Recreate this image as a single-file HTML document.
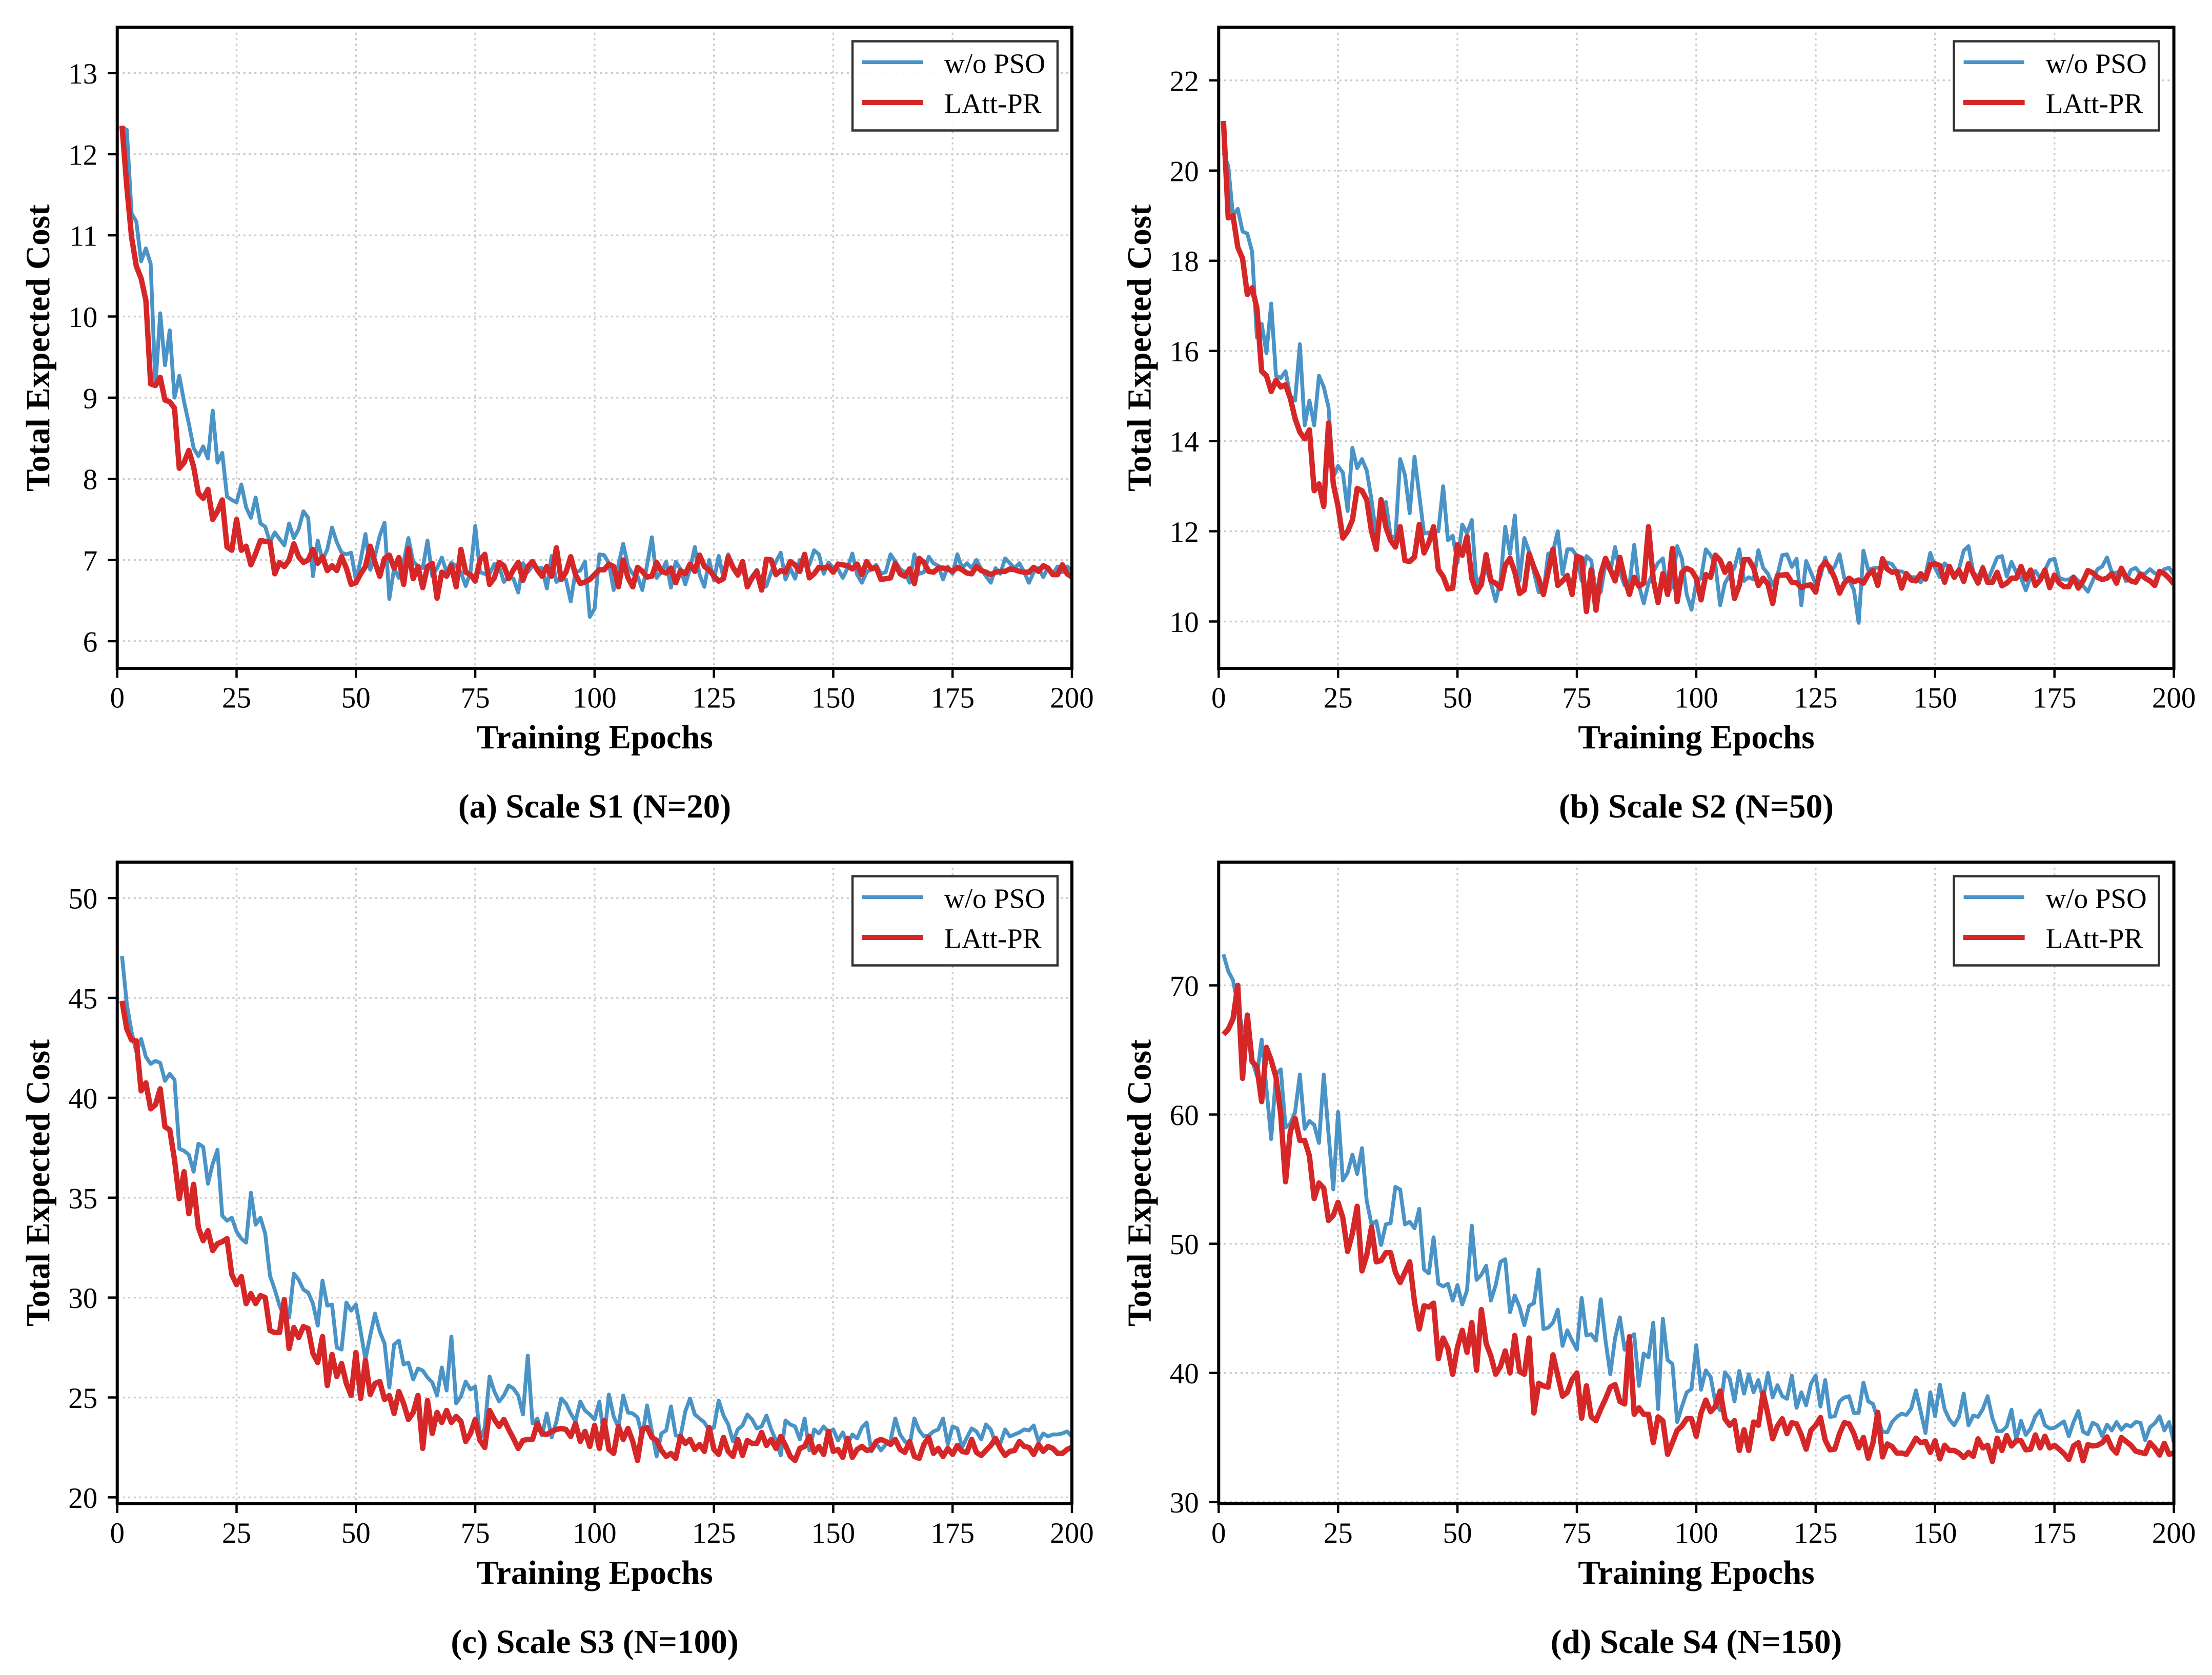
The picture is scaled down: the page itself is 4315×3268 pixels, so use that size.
<!DOCTYPE html>
<html lang="en">
<head>
<meta charset="utf-8">
<title>Total Expected Cost vs Training Epochs</title>
<style>
html,body{margin:0;padding:0;background:#fff;}
svg{display:block;}
text{font-family:"Liberation Serif","DejaVu Serif",serif;fill:#000;}
.axis-title{font-size:65.3px;font-weight:bold;}
.caption{font-size:65.3px;font-weight:bold;}
.tick-label{font-size:57px;}
.legend-text{font-size:55px;}
</style>
</head>
<body>
<svg id="figure" xmlns="http://www.w3.org/2000/svg" width="4315" height="3268" viewBox="0 0 4315 3268">
<rect x="0" y="0" width="4315" height="3268" fill="#fff"/>

<g id="panel-a">
<g class="plot"></g>
<text class="axis-title" x="1160" y="1460" text-anchor="middle">Training Epochs</text>
<text class="axis-title" transform="translate(96,679) rotate(-90)" text-anchor="middle">Total Expected Cost</text>
<text class="caption" x="1160" y="1595" text-anchor="middle">(a) Scale S1 (N=20)</text>
<g>
<rect x="1663" y="80.5" width="400" height="174" fill="#fff" fill-opacity="0.9" stroke="#333" stroke-width="4.5"/>
<line x1="1682" x2="1800" y1="121.3" y2="121.3" stroke="#4a93c6" stroke-width="7.3"/>
<text class="legend-text" x="1842" y="142.7">w/o PSO</text>
<line x1="1681" x2="1801" y1="200" y2="200" stroke="#d62728" stroke-width="10"/>
<text class="legend-text" x="1842" y="220.7">LAtt-PR</text>
</g>
</g>

<g id="panel-b">
<g class="plot"></g>
<text class="axis-title" x="3309" y="1460" text-anchor="middle">Training Epochs</text>
<text class="axis-title" transform="translate(2244.6,679) rotate(-90)" text-anchor="middle">Total Expected Cost</text>
<text class="caption" x="3309" y="1595" text-anchor="middle">(b) Scale S2 (N=50)</text>
<g>
<rect x="3811.6" y="80.5" width="400" height="174" fill="#fff" fill-opacity="0.9" stroke="#333" stroke-width="4.5"/>
<line x1="3830.6" x2="3948.6" y1="121.3" y2="121.3" stroke="#4a93c6" stroke-width="7.3"/>
<text class="legend-text" x="3990.6" y="142.7">w/o PSO</text>
<line x1="3829.6" x2="3949.6" y1="200" y2="200" stroke="#d62728" stroke-width="10"/>
<text class="legend-text" x="3990.6" y="220.7">LAtt-PR</text>
</g>
</g>

<g id="panel-c">
<g class="plot"></g>
<text class="axis-title" x="1160" y="3090" text-anchor="middle">Training Epochs</text>
<text class="axis-title" transform="translate(96,2308) rotate(-90)" text-anchor="middle">Total Expected Cost</text>
<text class="caption" x="1160" y="3225" text-anchor="middle">(c) Scale S3 (N=100)</text>
<g>
<rect x="1663" y="1709.5" width="400" height="174" fill="#fff" fill-opacity="0.9" stroke="#333" stroke-width="4.5"/>
<line x1="1682" x2="1800" y1="1750.3" y2="1750.3" stroke="#4a93c6" stroke-width="7.3"/>
<text class="legend-text" x="1842" y="1771.7">w/o PSO</text>
<line x1="1681" x2="1801" y1="1829" y2="1829" stroke="#d62728" stroke-width="10"/>
<text class="legend-text" x="1842" y="1849.7">LAtt-PR</text>
</g>
</g>

<g id="panel-d">
<g class="plot"></g>
<text class="axis-title" x="3309" y="3090" text-anchor="middle">Training Epochs</text>
<text class="axis-title" transform="translate(2244.6,2308) rotate(-90)" text-anchor="middle">Total Expected Cost</text>
<text class="caption" x="3309" y="3225" text-anchor="middle">(d) Scale S4 (N=150)</text>
<g>
<rect x="3811.6" y="1709.5" width="400" height="174" fill="#fff" fill-opacity="0.9" stroke="#333" stroke-width="4.5"/>
<line x1="3830.6" x2="3948.6" y1="1750.3" y2="1750.3" stroke="#4a93c6" stroke-width="7.3"/>
<text class="legend-text" x="3990.6" y="1771.7">w/o PSO</text>
<line x1="3829.6" x2="3949.6" y1="1829" y2="1829" stroke="#d62728" stroke-width="10"/>
<text class="legend-text" x="3990.6" y="1849.7">LAtt-PR</text>
</g>
</g>
</svg>

<script>
const xTicks = [0,25,50,75,100,125,150,175,200];
const yTicksS1 = [6,7,8,9,10,11,12,13];
const yTicksS2 = [10,12,14,16,18,20,22];
const yTicksS3 = [20,25,30,35,40,45,50];
const yTicksS4 = [30,40,50,60,70];

const woPsoS1 = [
12.33,12.3,11.27,11.17,10.68,10.84,10.65,9.14,10.04,9.4,
9.83,9.0,9.27,8.95,8.68,8.38,8.28,8.4,8.25,8.84,
8.2,8.32,7.78,7.74,7.71,7.93,7.65,7.52,7.77,7.45,
7.41,7.22,7.34,7.26,7.18,7.45,7.27,7.38,7.6,7.52,
6.8,7.24,7.0,7.13,7.4,7.22,7.09,7.07,7.09,6.75,
7.0,7.32,6.88,7.05,7.3,7.46,6.52,6.9,6.78,6.98,
7.27,6.98,6.93,6.9,7.24,6.8,6.9,7.03,6.85,6.97,
6.92,6.85,6.68,6.85,7.42,6.85,6.83,6.83,6.95,6.92,
6.73,6.8,6.77,6.6,6.96,6.85,6.93,6.9,6.9,6.65,
7.05,6.73,6.78,6.76,6.49,6.85,6.87,6.98,6.3,6.4,
7.07,7.06,6.96,6.63,6.94,7.2,6.92,6.83,6.8,6.63,
6.94,7.28,6.78,6.85,6.98,6.66,6.98,6.89,6.7,6.89,
7.16,6.82,6.67,7.0,6.75,7.05,6.78,7.07,6.89,6.8,
6.89,6.71,6.8,6.88,6.65,6.68,6.85,6.98,7.09,6.76,
6.9,6.77,7.0,7.01,6.94,7.12,7.07,6.83,6.97,6.9,
6.89,6.78,6.9,7.08,6.82,6.72,6.85,6.89,6.94,6.83,
6.85,7.07,6.98,6.89,6.85,6.72,7.07,6.83,6.85,7.04,
6.96,6.93,6.76,6.92,6.83,7.07,6.9,6.96,6.9,7.0,
6.89,6.8,6.72,6.9,6.83,7.02,6.96,6.9,6.96,6.85,
6.72,6.85,6.9,6.79,6.91,6.83,6.92,6.85,6.92,6.86];

const lattPrS1 = [
12.35,11.6,10.98,10.62,10.47,10.2,9.17,9.15,9.25,8.97,
8.95,8.87,8.13,8.2,8.35,8.15,7.82,7.76,7.87,7.5,
7.6,7.74,7.16,7.12,7.5,7.12,7.17,6.94,7.08,7.24,
7.23,7.22,6.83,6.97,6.92,7.0,7.2,7.04,6.97,7.0,
7.13,6.96,7.04,6.87,6.93,6.87,7.04,6.9,6.7,6.72,
6.83,6.92,7.17,6.97,6.8,7.02,7.06,6.9,7.03,6.7,
7.14,6.77,6.92,6.66,6.92,6.96,6.53,6.85,6.8,6.93,
6.67,7.13,6.85,6.82,6.74,7.0,7.07,6.7,6.78,6.97,
6.93,6.77,6.88,6.97,6.75,6.92,6.98,6.88,6.8,6.92,
6.8,7.15,6.76,6.85,7.04,6.82,6.71,6.73,6.76,6.82,
6.88,6.88,6.95,6.92,6.67,7.0,6.78,6.67,6.91,6.86,
6.79,6.8,6.97,6.86,6.84,6.9,6.72,6.87,6.83,6.95,
6.86,7.06,6.92,6.88,6.8,6.74,6.77,7.04,6.91,6.82,
6.98,6.67,6.78,6.86,6.63,7.01,7.0,6.82,6.87,6.85,
6.98,6.94,6.86,7.07,6.78,6.83,6.91,6.9,6.92,6.85,
6.95,6.94,6.93,6.89,6.95,6.82,6.98,6.89,6.91,6.76,
6.77,6.78,6.96,6.83,6.8,6.89,6.71,7.02,6.97,6.86,
6.85,6.9,6.9,6.89,6.86,6.91,6.88,6.84,6.83,6.92,
6.87,6.85,6.82,6.85,6.86,6.86,6.89,6.88,6.86,6.85,
6.85,6.91,6.86,6.93,6.9,6.82,6.82,6.94,6.83,6.79];

const woPsoS2 = [
20.4,20.1,19.0,19.15,18.65,18.6,18.2,16.3,16.6,15.95,
17.05,15.45,15.4,15.55,15.0,14.9,16.15,14.35,14.9,14.35,
15.45,15.2,14.75,13.2,13.45,13.3,12.45,13.85,13.4,13.6,
13.35,12.7,11.9,12.5,12.65,11.9,11.85,13.6,13.25,12.4,
13.65,12.8,11.95,11.97,12.0,12.0,13.0,11.8,11.9,11.3,
12.15,11.95,12.25,10.8,11.0,11.2,10.85,10.45,10.9,12.1,
11.5,12.35,10.9,11.85,11.55,11.1,10.65,10.65,11.5,11.55,
12.0,11.05,11.6,11.6,11.45,10.9,11.45,11.35,10.65,10.65,
11.3,11.1,11.65,11.1,10.8,10.8,11.7,10.8,10.4,10.85,
11.1,11.3,11.4,10.6,10.8,11.67,11.39,10.6,10.26,10.87,
10.96,11.6,11.47,11.26,10.36,10.85,11.03,11.19,11.6,10.9,
10.98,10.93,11.58,11.19,11.06,10.8,11.03,11.47,11.49,11.21,
11.39,10.36,11.34,11.09,10.83,11.0,11.42,11.09,11.22,11.49,
10.96,10.92,10.7,9.97,11.57,11.14,11.18,11.19,11.16,11.31,
11.27,11.11,11.11,11.06,10.98,10.98,10.87,11.03,11.52,11.19,
10.98,11.29,11.19,10.98,11.16,11.57,11.67,11.09,10.98,11.22,
10.9,11.16,11.42,11.45,11.0,11.32,11.09,10.96,10.69,11.0,
11.12,10.96,11.14,11.36,11.39,10.96,10.93,10.93,11.0,10.9,
10.79,10.66,10.9,11.16,11.22,11.42,11.09,11.07,11.16,10.89,
11.14,11.19,11.06,11.06,11.16,11.07,11.06,11.16,11.19,11.03];

const lattPrS2 = [
21.1,18.95,19.0,18.3,18.05,17.25,17.4,16.95,15.55,15.45,
15.1,15.35,15.2,15.25,14.95,14.5,14.2,14.05,14.25,12.9,
13.05,12.55,14.4,13.05,12.55,11.85,12.0,12.25,12.95,12.9,
12.7,12.0,11.6,12.7,12.1,11.8,11.65,12.1,11.35,11.33,
11.43,12.15,11.52,11.75,12.1,11.15,11.0,10.72,10.74,11.7,
11.47,11.88,10.95,10.65,10.82,11.48,10.9,10.85,10.73,11.25,
11.4,11.1,10.62,10.7,11.5,11.2,10.95,10.6,11.1,11.6,
10.8,10.9,11.02,10.6,11.45,11.4,10.22,11.15,10.25,11.05,
11.4,11.15,10.9,11.42,10.95,10.6,10.98,10.78,10.85,12.1,
10.93,10.42,11.06,10.6,11.62,10.44,11.09,11.18,11.13,10.96,
10.48,11.04,10.98,11.47,11.36,11.09,11.28,10.51,10.8,11.37,
11.37,11.19,10.8,10.96,10.83,10.4,11.02,11.03,11.04,10.87,
10.86,10.75,10.8,10.81,10.65,11.18,11.32,11.19,10.96,10.63,
10.85,10.96,10.88,10.92,10.85,11.04,11.13,10.8,11.39,11.16,
11.09,11.11,10.74,11.06,10.92,10.9,11.06,10.94,11.26,11.28,
11.24,10.87,11.22,10.98,11.14,10.89,11.28,11.06,10.85,11.18,
10.87,10.87,11.09,10.79,10.85,10.96,10.96,11.22,10.94,11.14,
10.8,10.92,11.14,10.75,11.03,10.85,10.77,10.77,10.98,10.74,
10.9,11.13,11.08,10.98,10.93,10.96,11.06,10.85,11.18,10.98,
10.9,10.87,11.05,10.96,10.9,10.8,11.11,11.06,10.96,10.83];

const woPsoS3 = [
47.1,44.7,43.3,42.3,42.95,42.05,41.7,41.85,41.75,40.85,
41.2,40.9,37.45,37.35,37.15,36.3,37.7,37.55,35.7,36.7,
37.4,34.1,33.85,34.0,33.3,32.95,32.75,35.25,33.65,34.0,
33.2,31.1,30.4,29.6,29.0,29.0,31.2,30.9,30.4,30.25,
29.7,28.6,30.85,29.6,29.65,27.5,27.4,29.75,29.35,29.65,
28.3,26.9,28.1,29.2,28.3,27.7,25.5,27.65,27.85,26.65,
26.75,25.9,26.45,26.35,26.0,25.75,25.1,26.5,25.35,28.05,
24.7,25.05,25.8,25.4,25.55,22.9,23.5,26.05,25.3,24.8,
25.1,25.6,25.45,25.1,24.15,27.1,23.7,23.95,23.1,24.2,
23.0,23.8,24.95,24.7,24.2,23.8,24.8,24.35,24.15,23.9,
24.8,23.0,25.15,24.05,23.5,25.1,24.25,24.2,24.0,23.05,
24.6,23.3,22.05,23.2,23.35,24.55,23.1,23.05,24.3,24.95,
24.15,23.95,23.75,23.35,23.5,24.85,24.1,23.65,22.8,23.4,
23.6,24.15,23.9,23.45,23.55,24.1,23.4,22.85,22.1,23.85,
23.65,23.55,22.9,23.95,22.35,23.4,23.2,23.55,23.25,23.4,
22.85,23.25,22.65,23.15,22.95,23.5,23.75,22.3,22.7,22.35,
22.65,22.85,23.95,23.15,22.8,22.6,23.95,23.35,23.05,23.1,
23.3,23.4,23.95,22.65,23.55,23.45,22.5,23.0,23.45,23.3,
22.9,23.65,23.4,22.7,22.7,23.4,23.05,23.15,23.25,23.4,
23.35,23.6,22.8,23.2,23.05,23.15,23.15,23.2,23.3,23.05];

const lattPrS3 = [
44.85,43.45,42.9,42.85,40.35,40.75,39.45,39.65,40.45,38.55,
38.4,36.9,34.95,36.3,34.2,35.67,33.5,32.85,33.35,32.35,
32.7,32.8,32.95,31.15,30.65,31.05,29.7,30.2,29.7,30.1,
30.0,28.35,28.25,28.25,29.9,27.45,28.5,28.0,28.55,28.45,
27.2,26.75,28.05,25.6,27.15,26.05,26.7,25.7,25.1,27.25,
24.95,26.85,25.15,25.7,25.8,24.9,25.1,24.2,25.3,24.7,
23.9,24.25,25.1,22.45,24.85,23.2,24.25,23.75,24.35,23.75,
24.05,23.8,22.8,23.2,23.9,22.85,22.5,24.35,23.9,23.55,
23.9,23.4,22.95,22.45,22.85,22.9,22.9,23.7,23.2,23.15,
23.3,23.4,23.45,23.4,23.05,23.7,22.8,23.3,22.55,23.6,
22.45,23.85,22.4,22.2,23.55,22.9,23.45,22.8,21.85,23.4,
23.5,23.0,22.85,22.35,22.05,22.2,21.95,23.05,22.7,22.9,
22.4,22.65,22.3,23.5,22.4,22.15,23.0,22.3,22.05,22.9,
22.1,22.85,22.7,22.7,23.25,22.6,22.9,22.45,23.05,22.6,
22.05,21.85,22.45,22.55,23.05,22.25,22.55,22.15,23.3,22.3,
22.4,22.0,22.95,22.0,22.4,22.55,22.35,22.4,22.8,22.9,
22.8,22.65,22.9,22.4,22.25,22.8,22.05,21.95,22.65,23.0,
22.2,22.45,22.05,22.45,22.15,22.6,22.3,22.25,22.9,22.25,
22.1,22.35,22.6,22.95,22.45,22.1,22.3,22.35,22.8,22.55,
22.5,22.15,22.65,22.3,22.55,22.45,22.2,22.2,22.4,22.5];

const woPsoS4 = [
72.4,71.1,70.4,68.5,66.5,67.0,64.2,63.0,65.8,62.0,
58.1,63.1,63.5,59.0,59.3,60.2,63.1,58.9,59.5,59.2,
57.8,63.1,58.5,54.2,60.2,54.9,55.5,56.9,55.4,57.4,
53.3,51.5,51.75,49.9,51.5,51.6,54.4,54.2,51.5,51.7,
51.2,52.7,48.0,47.7,50.5,46.9,46.7,46.9,45.6,46.8,
45.3,46.4,51.4,47.2,47.6,48.3,45.6,46.8,48.6,48.8,
44.7,46.0,45.1,43.7,45.2,45.4,48.0,43.4,43.5,43.9,
44.9,42.1,43.3,42.5,41.8,45.8,42.9,43.0,42.5,45.7,
42.5,39.9,42.7,44.3,41.8,42.7,43.0,39.0,41.5,41.2,
43.9,37.2,44.2,41.0,40.7,36.2,37.4,38.5,38.75,42.15,
38.7,40.2,39.7,37.7,37.1,40.05,39.55,37.8,40.15,38.4,
39.9,38.5,39.45,38.0,40.0,38.1,39.05,38.2,38.0,39.8,
37.3,38.5,37.5,39.15,39.8,37.4,39.45,36.6,36.65,37.8,
38.1,38.2,36.9,36.9,39.25,37.8,37.6,36.4,35.45,35.4,
36.2,36.6,36.85,36.75,37.25,38.65,37.0,35.35,38.5,36.65,
39.1,37.2,36.4,35.95,36.6,38.4,35.95,36.7,36.6,37.2,
38.2,36.5,35.5,35.5,35.85,37.15,34.8,36.3,35.2,35.7,
36.65,37.1,35.95,35.7,35.75,36.0,36.25,35.1,36.2,37.05,
35.45,35.25,36.15,35.95,35.1,36.0,35.55,36.2,35.6,36.0,
35.85,36.2,36.15,34.8,35.8,36.1,36.65,35.55,36.2,34.6];

const lattPrS4 = [
66.2,66.6,67.4,70.0,62.8,67.7,64.1,63.7,61.0,65.2,
64.2,62.9,60.0,54.8,58.7,59.7,58.0,58.0,56.8,53.5,
54.7,54.3,51.8,52.2,53.2,52.0,49.4,50.8,52.9,47.9,
49.1,51.3,48.6,48.7,49.3,49.3,47.8,47.0,47.8,48.6,
45.5,43.4,45.2,45.1,45.4,41.1,42.7,41.9,39.9,42.0,
43.3,41.6,43.9,40.2,44.9,42.3,41.3,39.9,40.5,41.7,
40.0,42.9,40.1,39.9,42.7,36.9,39.2,39.0,38.9,41.4,
39.8,38.2,38.5,39.5,40.0,36.5,39.0,36.6,36.3,37.2,
38.0,38.9,39.1,37.8,37.6,42.8,36.8,37.3,36.8,36.8,
34.6,36.6,36.3,33.7,34.6,35.55,35.9,36.45,36.45,35.1,
36.9,37.9,37.0,37.4,38.6,36.45,35.95,36.3,34.0,35.6,
34.0,36.2,35.95,38.45,36.8,34.9,35.9,36.45,35.3,36.15,
36.05,35.2,34.1,35.55,35.95,36.55,34.8,34.05,34.1,35.3,
36.15,36.05,35.3,34.2,35.0,33.4,34.6,36.95,33.5,34.5,
34.3,33.8,33.8,33.7,34.3,34.95,34.6,34.7,33.85,34.75,
33.35,34.4,34.0,34.0,33.8,33.45,33.85,33.55,34.9,34.2,
34.4,33.15,34.95,34.0,35.15,34.35,34.75,34.75,34.05,34.1,
35.2,34.2,35.1,34.2,34.4,34.1,33.75,33.3,34.35,34.6,
33.2,34.45,34.35,34.4,34.6,35.05,34.2,33.8,35.0,34.7,
34.4,33.95,33.85,33.75,34.6,34.2,33.65,34.55,33.7,33.8];

const SVG_NS = 'http://www.w3.org/2000/svg';

function add(parent, tag) {
  const node = document.createElementNS(SVG_NS, tag);
  parent.appendChild(node);
  return node;
}

function setLine(node, x1, y1, x2, y2) {
  node.setAttribute('x1', x1);
  node.setAttribute('y1', y1);
  node.setAttribute('x2', x2);
  node.setAttribute('y2', y2);
}

function drawPanel(panelId, left, right, top, bottom, yMin, yMax, yTicks, blueValues, redValues) {
  const plot = document.querySelector('#' + panelId + ' .plot');
  const xScale = function (v) { return left + (v / 200) * (right - left); };
  const yScale = function (v) { return bottom - ((v - yMin) / (yMax - yMin)) * (bottom - top); };

  const defs = add(plot, 'defs');
  const clip = add(defs, 'clipPath');
  clip.setAttribute('id', panelId + '-clip');
  const clipRect = add(clip, 'rect');
  clipRect.setAttribute('x', left);
  clipRect.setAttribute('y', top);
  clipRect.setAttribute('width', right - left);
  clipRect.setAttribute('height', bottom - top);

  xTicks.forEach(function (t) {
    const grid = add(plot, 'line');
    
    
    setLine(grid, xScale(t), top, xScale(t), bottom);
    grid.setAttribute('stroke', '#c9c9c9');
    grid.setAttribute('stroke-width', '3.4');
    grid.setAttribute('stroke-dasharray', '4 6.7');
  });
  yTicks.forEach(function (t) {
    const grid = add(plot, 'line');
    
    
    setLine(grid, left, yScale(t), right, yScale(t));
    grid.setAttribute('stroke', '#c9c9c9');
    grid.setAttribute('stroke-width', '3.4');
    grid.setAttribute('stroke-dasharray', '4 6.7');
  });

  const series = add(plot, 'g');
  series.setAttribute('clip-path', 'url(#' + panelId + '-clip)');

  const toPath = function (values) {
    return values.map(function (v, i) {
      return (i === 0 ? 'M' : 'L') + xScale(i + 1).toFixed(2) + ' ' + yScale(v).toFixed(2);
    }).join(' ');
  };

  const blue = add(series, 'path');
  
  
  blue.setAttribute('d', toPath(blueValues));
  blue.setAttribute('fill', 'none');
  blue.setAttribute('stroke', '#4a93c6');
  blue.setAttribute('stroke-width', '7.5');
  blue.setAttribute('stroke-linejoin', 'round');

  const red = add(series, 'path');
  
  
  red.setAttribute('d', toPath(redValues));
  red.setAttribute('fill', 'none');
  red.setAttribute('stroke', '#d62728');
  red.setAttribute('stroke-width', '10.5');
  red.setAttribute('stroke-linejoin', 'round');

  const frame = add(plot, 'rect');
  
  
  frame.setAttribute('x', left);
  frame.setAttribute('y', top);
  frame.setAttribute('width', right - left);
  frame.setAttribute('height', bottom - top);
  frame.setAttribute('fill', 'none');
  frame.setAttribute('stroke', '#000');
  frame.setAttribute('stroke-width', '6');

  xTicks.forEach(function (t) {
    const tick = add(plot, 'line');
    
    
    setLine(tick, xScale(t), bottom, xScale(t), bottom + 18.5);
    tick.setAttribute('stroke', '#000');
    tick.setAttribute('stroke-width', '4.5');
    const label = add(plot, 'text');
    
    
    label.setAttribute('class', 'tick-label');
    label.setAttribute('x', xScale(t));
    label.setAttribute('y', bottom + 76.7);
    label.setAttribute('text-anchor', 'middle');
    label.textContent = String(t);
  });

  yTicks.forEach(function (t) {
    const tick = add(plot, 'line');
    
    
    setLine(tick, left - 18.5, yScale(t), left, yScale(t));
    tick.setAttribute('stroke', '#000');
    tick.setAttribute('stroke-width', '4.5');
    const label = add(plot, 'text');
    
    
    label.setAttribute('class', 'tick-label');
    label.setAttribute('x', left - 38.5);
    label.setAttribute('y', yScale(t) + 20.5);
    label.setAttribute('text-anchor', 'end');
    label.textContent = String(t);
  });
}

drawPanel('panel-a', 228.7, 2091, 53, 1304, 5.665, 13.565, yTicksS1, woPsoS1, lattPrS1);
drawPanel('panel-b', 2377.3, 4240.6, 53, 1304, 8.96, 23.18, yTicksS2, woPsoS2, lattPrS2);
drawPanel('panel-c', 228.7, 2091, 1682, 2933.5, 19.69, 51.8, yTicksS3, woPsoS3, lattPrS3);
drawPanel('panel-d', 2377.3, 4240.6, 1682, 2933.5, 29.89, 79.54, yTicksS4, woPsoS4, lattPrS4);
</script>
</body>
</html>
